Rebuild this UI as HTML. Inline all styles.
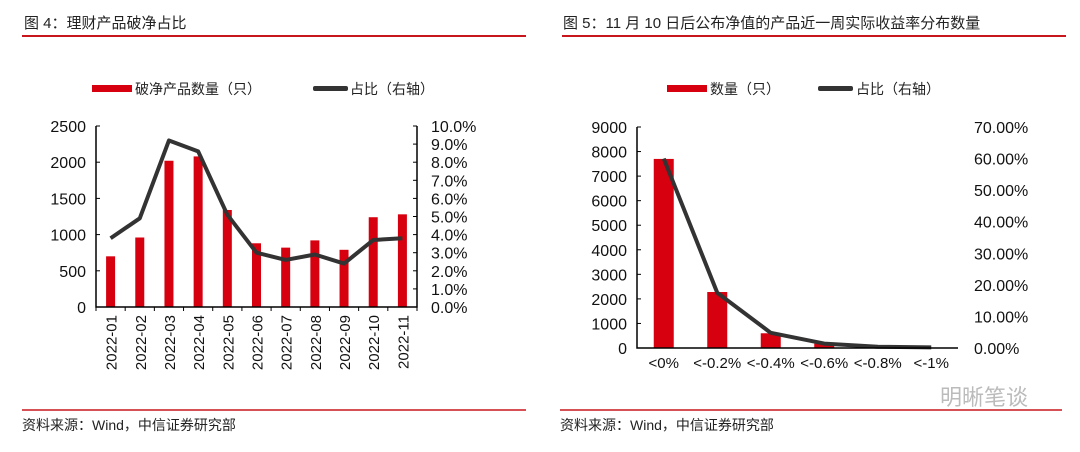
<!DOCTYPE html>
<html><head><meta charset="utf-8"><style>
body{margin:0;background:#fff;width:1080px;height:447px;overflow:hidden;font-family:"Liberation Sans","Noto Sans CJK SC",sans-serif}
svg text{font-family:"Liberation Sans","Noto Sans CJK SC",sans-serif}
</style></head><body>
<svg id="s" width="1080" height="447" xmlns="http://www.w3.org/2000/svg">
<text x="24" y="28" font-size="15" fill="#222">图 4：理财产品破净占比</text>
<line x1="22" y1="36" x2="526" y2="36" stroke="#c8161d" stroke-width="2"/>
<text x="563" y="28" font-size="15" fill="#222">图 5：11 月 10 日后公布净值的产品近一周实际收益率分布数量</text>
<line x1="562" y1="36" x2="1066" y2="36" stroke="#c8161d" stroke-width="2"/>
<line x1="22" y1="410" x2="526" y2="410" stroke="#c8161d" stroke-width="1.5"/>
<line x1="560" y1="410" x2="1062" y2="410" stroke="#c8161d" stroke-width="1.5"/>
<text x="22" y="430" font-size="14" fill="#222">资料来源：Wind，中信证券研究部</text>
<text x="560" y="430" font-size="14" fill="#222">资料来源：Wind，中信证券研究部</text>
<text x="940" y="405" font-size="22" fill="#bbb">明晰笔谈</text>
<g>
<rect x="92" y="85" width="40" height="7" fill="#d7000f"/>
<text x="135" y="94" font-size="14" fill="#222">破净产品数量（只）</text>
<rect x="313" y="86" width="35" height="5" rx="2" fill="#333"/>
<text x="350" y="94" font-size="14" fill="#222">占比（右轴）</text>
</g>
<g>
<rect x="667" y="85" width="40" height="7" fill="#d7000f"/>
<text x="710" y="94" font-size="14" fill="#222">数量（只）</text>
<rect x="818" y="86" width="35" height="5" rx="2" fill="#333"/>
<text x="856" y="94" font-size="14" fill="#222">占比（右轴）</text>
</g>
<g id="c1"></g>
<g id="c2"></g>
</svg>
<script>
const cats1=["2022-01","2022-02","2022-03","2022-04","2022-05","2022-06","2022-07","2022-08","2022-09","2022-10","2022-11"];
const bars1=[700,960,2020,2080,1340,880,820,920,790,1240,1280];
const line1=[3.8,4.9,9.2,8.6,5.1,3.0,2.6,2.9,2.4,3.7,3.8];
const ticksL1=[0,500,1000,1500,2000,2500];
const ticksR1=[0,1,2,3,4,5,6,7,8,9,10];
const cats2=["<0%","<-0.2%","<-0.4%","<-0.6%","<-0.8%","<-1%"];
const bars2=[7700,2280,600,180,40,15];
const line2=[60,17.5,4.8,1.4,0.4,0.2];
const ticksL2=[0,1000,2000,3000,4000,5000,6000,7000,8000,9000];
const ticksR2=[0,10,20,30,40,50,60,70];
const NS="http://www.w3.org/2000/svg";
function mk(p,t,a){const e=document.createElementNS(NS,t);for(const k in a)e.setAttribute(k,a[k]);p.appendChild(e);return e;}
function draw(g,o){
  const bw=(o.x1-o.x0)/o.cats.length;
  const X=i=>o.x0+bw*(i+0.5);
  const YL=v=>o.y1-(v/o.maxL)*(o.y1-o.y0);
  const YR=v=>o.y1-(v/o.maxR)*(o.y1-o.y0);
  o.bars.forEach((v,i)=>{
    const r=mk(g,"rect",{x:X(i)-o.barW/2,y:YL(v),width:o.barW,height:o.y1-YL(v),fill:"#d7000f"});
    
    
  });
  const p=mk(g,"polyline",{points:o.line.map((v,i)=>X(i)+","+YR(v)).join(" "),fill:"none",stroke:"#333",'stroke-width':4,'stroke-linejoin':"round"});
  
  
  const ax=mk(g,"path",{d:`M${o.x0} ${o.y0}V${o.y1}H${o.x1}`+(o.rightAxis?`V${o.y0}`:""),fill:"none",stroke:"#000",'stroke-width':1.5});
  
  
  o.ticksL.forEach(v=>{
    mk(g,"line",{x1:o.x0,x2:o.x0+4,y1:YL(v),y2:YL(v),stroke:"#000"});
    const t=mk(g,"text",{x:o.x0-10,y:YL(v)+6,'text-anchor':"end",'font-size':16,fill:"#111"});t.textContent=v;
    
    
  });
  o.ticksR.forEach(v=>{
    if(o.rightAxis)mk(g,"line",{x1:o.x1-4,x2:o.x1,y1:YR(v),y2:YR(v),stroke:"#000"});
    const t=mk(g,"text",{x:o.rx,y:YR(v)+6,'font-size':16,fill:"#111"});t.textContent=v.toFixed(o.dec)+"%";
    
    
  });
  o.cats.forEach((c,i)=>{
    if(o.rot){
      mk(g,"line",{x1:o.x0+bw*i,x2:o.x0+bw*i,y1:o.y1,y2:o.y1+4,stroke:"#000"});
      const t=mk(g,"text",{transform:`translate(${X(i)+6},${o.y1+8}) rotate(-90)`,'text-anchor':"end",'font-size':15,fill:"#111"});t.textContent=c;
      
      
    }else{
      const t=mk(g,"text",{x:X(i),y:o.y1+20,'text-anchor':"middle",'font-size':15,fill:"#111"});t.textContent=c;
      
      
    }
  });
  if(o.rot){mk(g,"line",{x1:o.x1,x2:o.x1,y1:o.y1,y2:o.y1+4,stroke:"#000"});}
}
draw(document.getElementById("c1"),{x0:96,x1:417,y0:126,y1:307,cats:cats1,bars:bars1,line:line1,ticksL:ticksL1,ticksR:ticksR1,maxL:2500,maxR:10,barW:9,rx:431,dec:1,rot:true,rightAxis:true});
draw(document.getElementById("c2"),{x0:637,x1:958,y0:127,y1:348,cats:cats2,bars:bars2,line:line2,ticksL:ticksL2,ticksR:ticksR2,maxL:9000,maxR:70,barW:20,rx:974,dec:2,rot:false,rightAxis:false});
</script>
</body></html>
